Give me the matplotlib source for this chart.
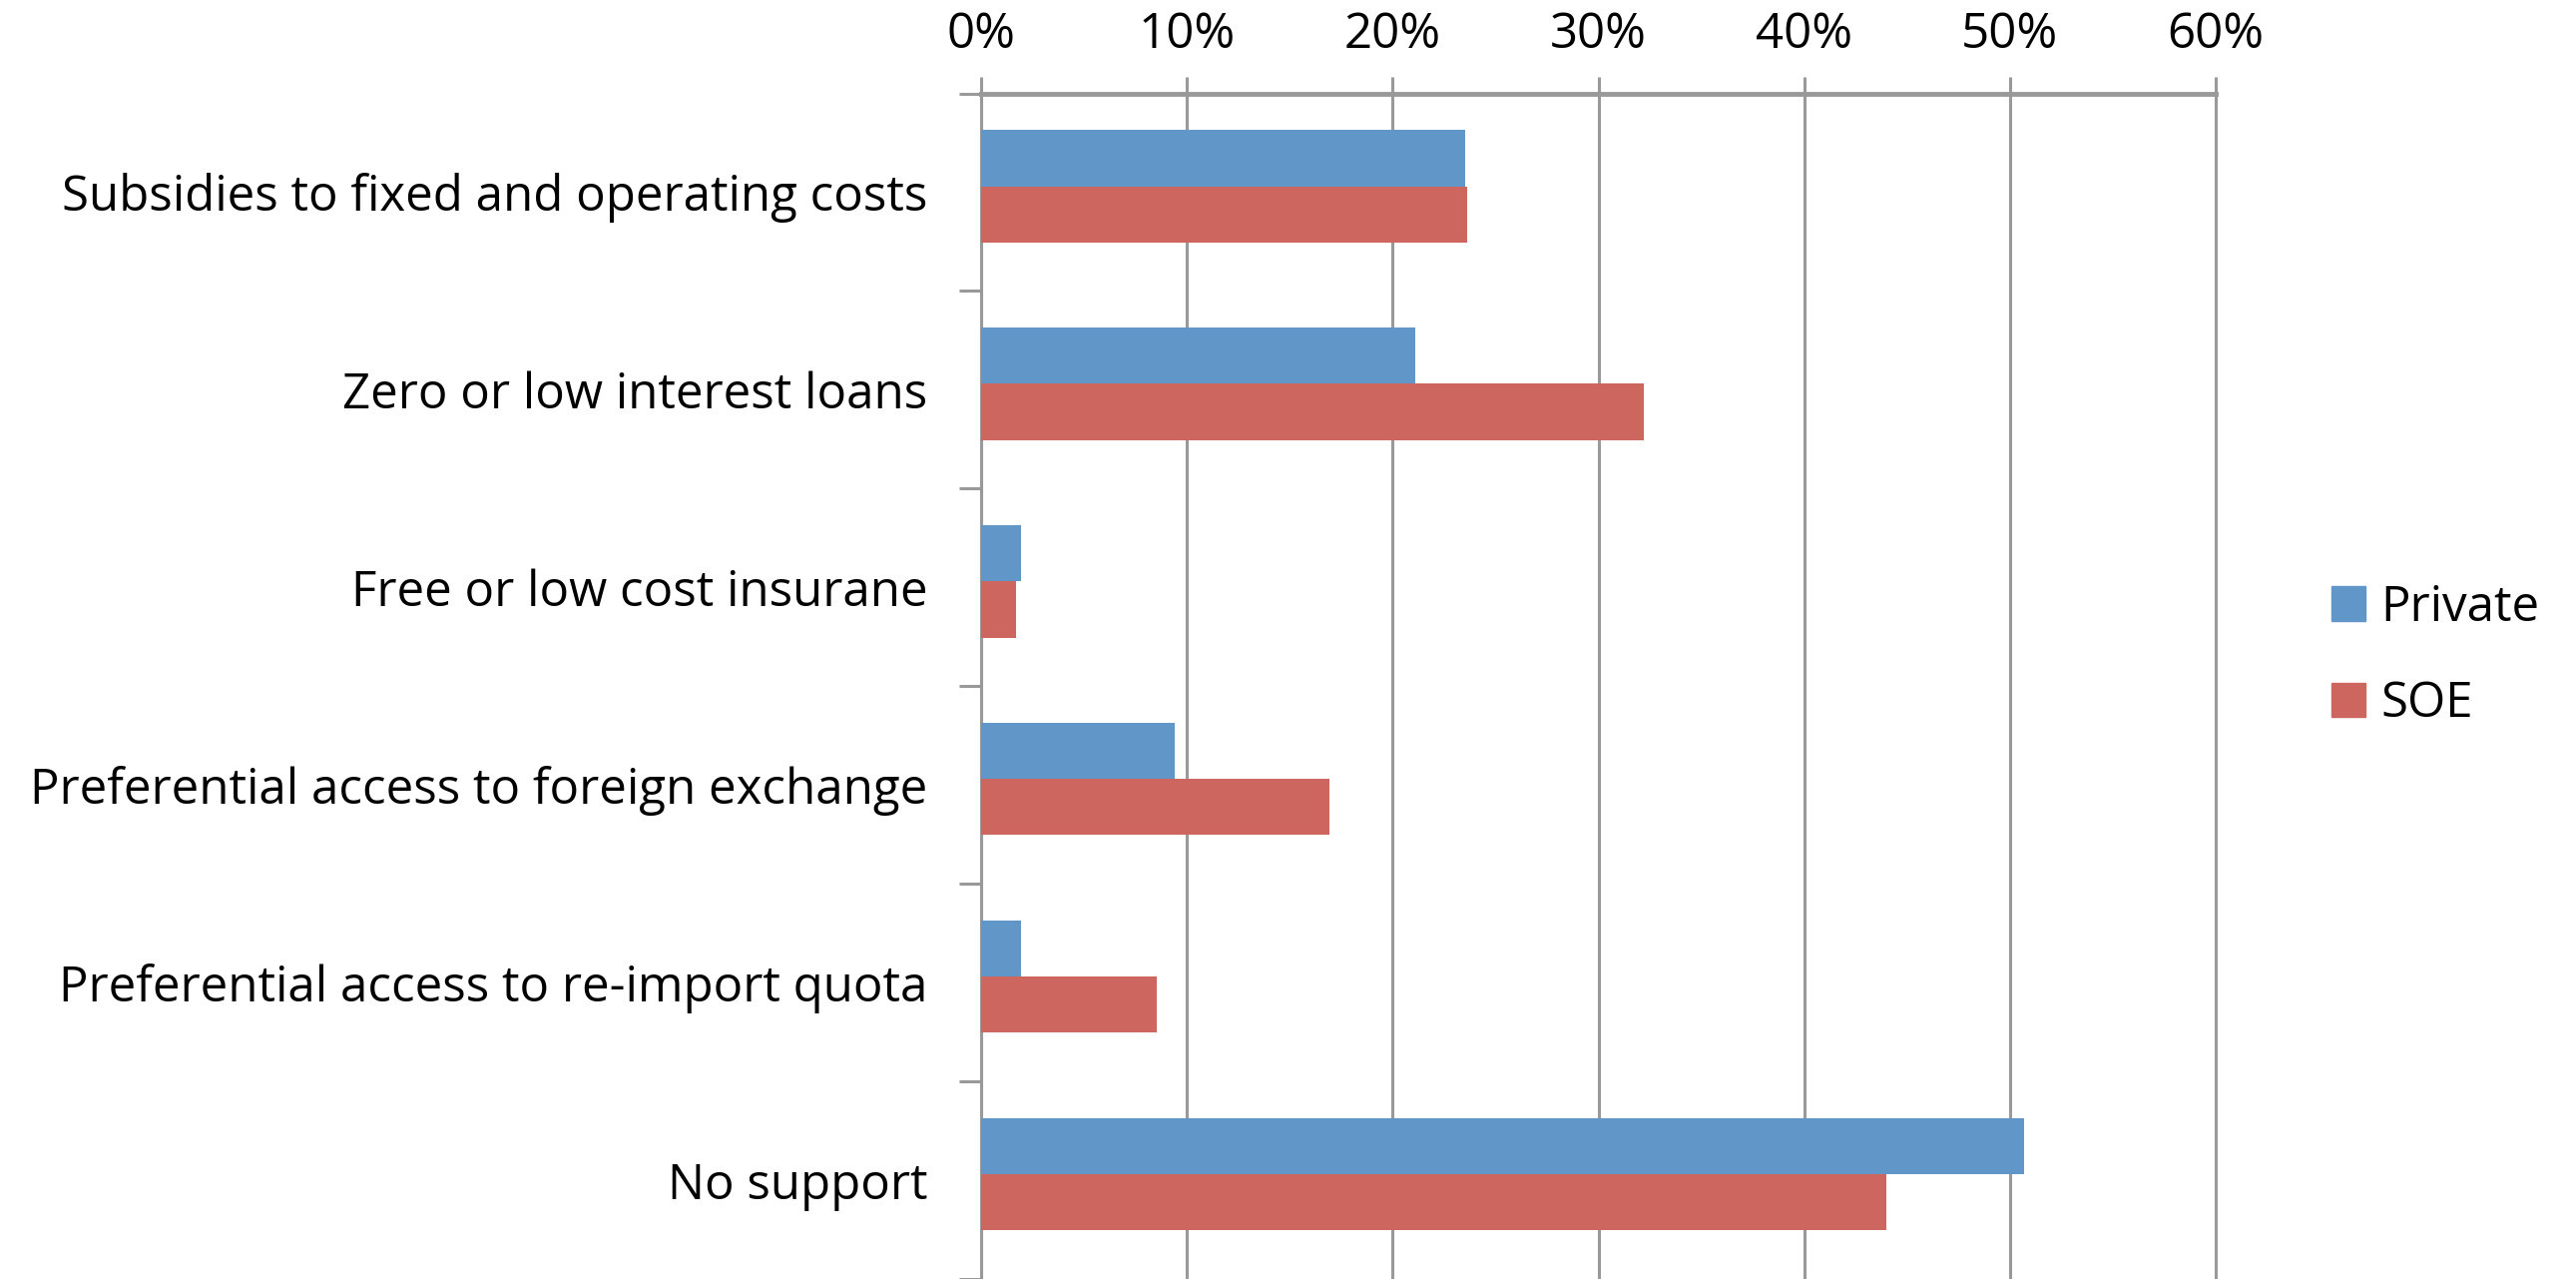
import matplotlib.pyplot as plt
import numpy as np
from matplotlib.patches import Patch

# Data (shares of firms)
categories = [
    'Subsidies to fixed and operating costs',
    'Zero or low interest loans',
    'Free or low cost insurane',
    'Preferential access to foreign exchange',
    'Preferential access to re-import quota',
    'No support',
]
private = [0.235, 0.211, 0.019, 0.094, 0.019, 0.507]
soe = [0.236, 0.322, 0.017, 0.169, 0.085, 0.440]
ticks = [0, 0.1, 0.2, 0.3, 0.4, 0.5, 0.6]
tick_labels = ['0%', '10%', '20%', '30%', '40%', '50%', '60%']

blue = '#6196c9'
red = '#cc665f'
grey = '#999999'

plt.rcParams['font.family'] = ['Open Sans', 'DejaVu Sans']
fs = 35.5

fig = plt.figure(figsize=(25.81, 12.81), dpi=100)
ax = fig.add_axes([0.381, 0.0, 0.479, 0.927])

# bar pair sits a bit above the category centre, as in the original
y = np.arange(len(categories))
h = 0.284
shift = -0.03
ax.barh(y - h / 2 + shift, private, h, color=blue, zorder=3)
ax.barh(y + h / 2 + shift, soe, h, color=red, zorder=3)

ax.set_xlim(0, 0.6)
ax.set_ylim(len(categories) - 0.5, -0.5)

# percent axis along the top
ax.xaxis.tick_top()
ax.set_xticks(ticks)
ax.set_xticklabels(tick_labels, fontsize=fs)
ax.tick_params(axis='x', length=12, width=2.2, color=grey, pad=12)
ax.grid(axis='x', color=grey, linewidth=2.2, zorder=0)
for line in ax.get_xgridlines():
    line.set_clip_on(False)

# category labels at centres, tick marks at the boundaries
ax.set_yticks(y)
ax.set_yticklabels(categories, fontsize=fs)
ax.set_yticks(np.arange(-0.5, len(categories)), minor=True)
ax.tick_params(axis='y', which='major', length=0, pad=39)
ax.tick_params(axis='y', which='minor', length=16, width=2.2, color=grey)

for side in ['right', 'bottom']:
    ax.spines[side].set_visible(False)
ax.spines['top'].set_color(grey)
ax.spines['top'].set_linewidth(3.5)
ax.spines['left'].set_color(grey)
ax.spines['left'].set_linewidth(2.2)

handles = [Patch(color=blue, label='Private'), Patch(color=red, label='SOE')]
fig.legend(handles=handles, loc='center left', bbox_to_anchor=(0.905, 0.487),
           frameon=False, fontsize=fs, handlelength=0.7, handleheight=0.7,
           handletextpad=0.3, labelspacing=0.95, borderpad=0, borderaxespad=0)

fig.savefig('out.png', dpi=100)
